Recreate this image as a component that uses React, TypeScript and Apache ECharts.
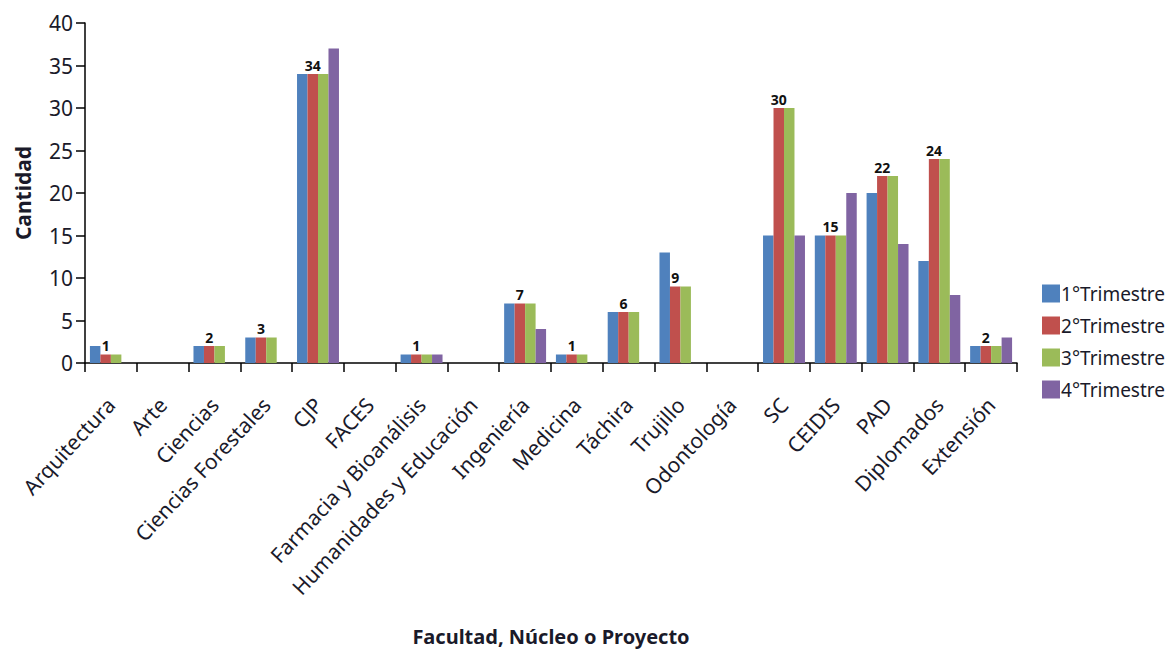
import React, { useEffect, useRef } from "react";
import * as echarts from "echarts";

const categories = [
  "Arquitectura", "Arte", "Ciencias", "Ciencias Forestales", "CJP", "FACES",
  "Farmacia y Bioanálisis", "Humanidades y Educación", "Ingeniería", "Medicina",
  "Táchira", "Trujillo", "Odontología", "SC", "CEIDIS", "PAD", "Diplomados", "Extensión",
];
const trimestre1 = [2, 0, 2, 3, 34, 0, 1, 0, 7, 1, 6, 13, 0, 15, 15, 20, 12, 2];
const trimestre2 = [1, 0, 2, 3, 34, 0, 1, 0, 7, 1, 6, 9, 0, 30, 15, 22, 24, 2];
const trimestre3 = [1, 0, 2, 3, 34, 0, 1, 0, 7, 1, 6, 9, 0, 30, 15, 22, 24, 2];
const trimestre4 = [0, 0, 0, 0, 37, 0, 1, 0, 4, 0, 0, 0, 0, 15, 20, 14, 8, 3];
const seriesNames = ["1°Trimestre", "2°Trimestre", "3°Trimestre", "4°Trimestre"];
const colors = ["#4F81BD", "#C0504D", "#9BBB59", "#8064A2"];

const FONT = "'Noto Sans', 'Open Sans', sans-serif";

export default function App() {
  const ref = useRef<HTMLDivElement>(null);
  useEffect(() => {
    document.body.style.margin = "0";
    if (!ref.current) return;
    const chart = echarts.init(ref.current, null, { renderer: "svg" });
    const data = [trimestre1, trimestre2, trimestre3, trimestre4];
    chart.setOption({
      animation: false,
      backgroundColor: "#ffffff",
      textStyle: { fontFamily: FONT },
      color: colors,
      legend: {
        orient: "vertical",
        right: 4,
        top: 279,
        itemWidth: 18,
        itemHeight: 18,
        itemGap: 13,
        icon: "rect",
        textStyle: { fontSize: 19, color: "#1a1a2a", fontFamily: FONT, padding: [0, 0, 0, -4] },
        data: seriesNames,
      },
      grid: { left: 85, right: 157, top: 23, bottom: 289, containLabel: false },
      xAxis: {
        type: "category",
        data: categories,
        name: "Facultad, Núcleo o Proyecto",
        nameLocation: "middle",
        nameGap: 263,
        nameTextStyle: { fontSize: 20, fontWeight: "bold", color: "#1a1a2a", fontFamily: FONT },
        axisLine: { lineStyle: { color: "#000", width: 1.5 } },
        axisTick: { show: true, length: 9, alignWithLabel: false, lineStyle: { color: "#000", width: 1.5 } },
        axisLabel: {
          interval: 0,
          rotate: 47,
          margin: 38,
          fontSize: 21,
          color: "#1a1a2a",
          fontFamily: FONT,
        },
      },
      yAxis: {
        type: "value",
        min: 0,
        max: 40,
        interval: 5,
        name: "Cantidad",
        nameLocation: "middle",
        nameGap: 52,
        nameTextStyle: { fontSize: 21, fontWeight: "bold", color: "#1a1a2a", fontFamily: FONT },
        splitLine: { show: false },
        axisLine: { show: true, lineStyle: { color: "#000", width: 1.5 } },
        axisTick: { show: true, inside: false, length: 9, lineStyle: { color: "#000", width: 1.5 } },
        axisLabel: { fontSize: 21, color: "#1a1a2a", margin: 12, fontFamily: FONT },
      },
      series: data.map((d, i) => ({
        name: seriesNames[i],
        type: "bar",
        data: d,
        barGap: "0%",
        barCategoryGap: "19%",
        itemStyle: { color: colors[i], borderWidth: 0 },
        label:
          i === 1
            ? {
                show: true,
                position: "top",
                distance: 2,
                fontSize: 14,
                fontWeight: "bold",
                color: "#111",
                fontFamily: FONT,
                formatter: (p: any) => (p.value ? String(p.value) : ""),
              }
            : { show: false },
      })),
    });
    return () => chart.dispose();
  }, []);
  return <div ref={ref} style={{ width: 1174, height: 652 }} />;
}
